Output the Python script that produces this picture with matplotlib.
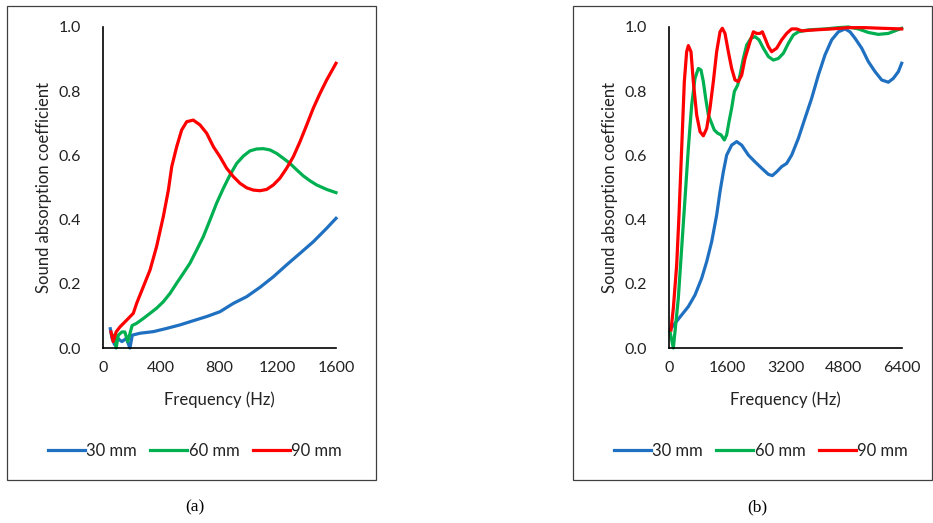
import matplotlib.pyplot as plt
from matplotlib.patches import Rectangle

plt.rcParams['font.family'] = ['Lato', 'DejaVu Sans']

# ---- panel (a): 0-1600 Hz ----
fa_30 = [50, 62, 80, 100, 130, 160, 185, 201, 254, 346, 437, 529, 620, 712, 803, 895,
         987, 1078, 1170, 1261, 1353, 1444, 1536, 1600]
aa_30 = [0.06, 0.03, 0.01, 0.03, 0.02, 0.03, 0.0, 0.04, 0.046, 0.051, 0.061, 0.072, 0.085,
         0.098, 0.113, 0.139, 0.16, 0.189, 0.222, 0.259, 0.295, 0.331, 0.373, 0.404]

fa_60 = [80, 90, 105, 130, 150, 170, 200, 231, 277, 323, 368, 414, 460, 506, 552, 597,
         643, 689, 735, 780, 826, 872, 918, 964, 1009, 1055, 1101, 1147, 1193, 1238,
         1284, 1330, 1376, 1421, 1467, 1536, 1600]
aa_60 = [0.04, 0.0, 0.04, 0.05, 0.05, 0.02, 0.07, 0.077, 0.092, 0.108, 0.124, 0.144, 0.17,
         0.202, 0.233, 0.264, 0.305, 0.347, 0.399, 0.451, 0.497, 0.539, 0.575, 0.598,
         0.614, 0.62, 0.621, 0.617, 0.606, 0.591, 0.575, 0.555, 0.536, 0.521, 0.508,
         0.494, 0.484]

fa_90 = [55, 70, 90, 117, 163, 208, 231, 277, 323, 368, 414, 449, 472, 506, 540, 575,
         620, 666, 712, 758, 803, 849, 895, 941, 987, 1032, 1078, 1124, 1170, 1215, 1261,
         1307, 1353, 1399, 1444, 1490, 1536, 1600]
aa_90 = [0.05, 0.02, 0.05, 0.066, 0.087, 0.108, 0.139, 0.191, 0.243, 0.316, 0.409, 0.492,
         0.565, 0.627, 0.679, 0.705, 0.71, 0.695, 0.669, 0.627, 0.596, 0.56, 0.534, 0.513,
         0.499, 0.492, 0.49, 0.494, 0.508, 0.529, 0.56, 0.596, 0.643, 0.695, 0.747, 0.793,
         0.835, 0.887]

# ---- panel (b): 0-6400 Hz ----
fb_30 = [55, 165, 348, 531, 714, 897, 1035, 1172, 1309, 1401, 1493, 1584, 1721, 1859,
         1996, 2180, 2362, 2546, 2729, 2838, 2958, 3095, 3232, 3370, 3553, 3736, 3919,
         4102, 4285, 4469, 4652, 4835, 4972, 5109, 5293, 5476, 5659, 5842, 6025, 6162,
         6300, 6391]
ab_30 = [0.061, 0.077, 0.103, 0.129, 0.165, 0.217, 0.269, 0.331, 0.414, 0.487, 0.549,
         0.601, 0.632, 0.643, 0.632, 0.601, 0.58, 0.56, 0.541, 0.537, 0.549, 0.565, 0.575,
         0.601, 0.653, 0.716, 0.778, 0.85, 0.913, 0.96, 0.985, 0.994, 0.985, 0.965, 0.934,
         0.892, 0.861, 0.835, 0.828, 0.84, 0.861, 0.887]

fb_60 = [27, 119, 165, 256, 348, 440, 531, 623, 714, 806, 879, 943, 1007, 1081, 1154,
         1245, 1337, 1428, 1520, 1584, 1648, 1721, 1795, 1886, 1950, 2042, 2134, 2253,
         2362, 2472, 2591, 2729, 2866, 3003, 3141, 3278, 3415, 3553, 3827, 4285, 4652,
         4926, 5201, 5476, 5750, 6025, 6208, 6391]
ab_60 = [0.051, 0.0, 0.051, 0.155, 0.311, 0.466, 0.622, 0.757, 0.84, 0.871, 0.866, 0.83,
         0.778, 0.726, 0.705, 0.679, 0.669, 0.664, 0.648, 0.664, 0.705, 0.747, 0.799,
         0.819, 0.85, 0.902, 0.944, 0.965, 0.97, 0.96, 0.934, 0.908, 0.897, 0.902, 0.918,
         0.949, 0.975, 0.985, 0.991, 0.994, 0.998, 1.0, 0.994, 0.983, 0.977, 0.98, 0.988,
         0.996]

fb_90 = [55, 119, 211, 275, 348, 421, 485, 531, 604, 668, 760, 852, 943, 1035, 1126,
         1218, 1309, 1401, 1465, 1538, 1630, 1721, 1813, 1905, 1996, 2088, 2225, 2317,
         2408, 2500, 2564, 2637, 2729, 2820, 2958, 3095, 3232, 3370, 3507, 3645, 4011,
         4469, 4926, 5384, 5842, 6391]
ab_90 = [0.056, 0.124, 0.259, 0.414, 0.622, 0.83, 0.923, 0.942, 0.923, 0.83, 0.726, 0.674,
         0.661, 0.684, 0.747, 0.83, 0.923, 0.985, 0.996, 0.98, 0.923, 0.871, 0.835, 0.83,
         0.85, 0.902, 0.954, 0.985, 0.98, 0.98, 0.985, 0.965, 0.939, 0.923, 0.934, 0.96,
         0.98, 0.994, 0.994, 0.988, 0.991, 0.994, 0.998, 0.998, 0.996, 0.994]

series_labels = ['30 mm', '60 mm', '90 mm']
colors = ['#1f70c1', '#00b050', '#ff0000']
y_ticks = [0.0, 0.2, 0.4, 0.6, 0.8, 1.0]
xa_ticks = [0, 400, 800, 1200, 1600]
xb_ticks = [0, 1600, 3200, 4800, 6400]

W, H = 933, 523
fig = plt.figure(figsize=(W / 100, H / 100), dpi=100)


def px_rect(x0, y0, x1, y1):
    # pixel box (top-left origin) -> figure fraction rect
    return [x0 / W, 1 - y1 / H, (x1 - x0) / W, (y1 - y0) / H]


def draw_panel(x0, x_max, ticks, data, box):
    # outer frame like the Excel chart area
    bx0, by0, bx1, by1 = box
    fig.patches.append(Rectangle((bx0 / W, 1 - by1 / H), (bx1 - bx0) / W, (by1 - by0) / H,
                                 transform=fig.transFigure, fill=False,
                                 edgecolor='#404040', linewidth=0.9))
    ax = fig.add_axes(px_rect(x0, 27, x0 + 233, 348))
    for (f, a), c, lab in zip(data, colors, series_labels):
        ax.plot(f, a, color=c, linewidth=2.3, label=lab, solid_joinstyle='round',
                clip_on=False)
    ax.set_xlim(0, x_max)
    ax.set_ylim(0, 1.0)
    ax.set_xticks(ticks)
    ax.set_yticks(y_ticks)
    ax.set_yticklabels([f'{v:.1f}' for v in y_ticks])
    ax.tick_params(axis='both', length=0, labelsize=11.5, colors='#222222')
    ax.tick_params(axis='x', pad=9)
    ax.tick_params(axis='y', pad=16)
    for s in ['top', 'right']:
        ax.spines[s].set_visible(False)
    for s in ['left', 'bottom']:
        ax.spines[s].set_color('black')
        ax.spines[s].set_linewidth(1.2)
    ax.text(0.5, -0.162, 'Frequency (Hz)', transform=ax.transAxes,
            ha='center', va='center', fontsize=12, color='#222222')
    ax.text(-0.255, 0.5, 'Sound absorption coefficient', transform=ax.transAxes,
            ha='center', va='center', rotation=90, fontsize=12, color='#222222')
    ax.legend(loc='center', bbox_to_anchor=(0.395, -0.321), ncol=3, frameon=False,
              fontsize=12, handlelength=2.2, handletextpad=0.1, columnspacing=0.8,
              labelcolor='#222222')
    return ax


draw_panel(103, 1600, xa_ticks,
           [(fa_30, aa_30), (fa_60, aa_60), (fa_90, aa_90)], (7, 6, 376, 480))
draw_panel(669, 6400, xb_ticks,
           [(fb_30, ab_30), (fb_60, ab_60), (fb_90, ab_90)], (573, 6, 932, 480))

fig.text(195 / W, 1 - 507 / H, '(a)', ha='center', va='center', fontsize=12.5,
         family='Liberation Serif')
fig.text(757 / W, 1 - 507 / H, '(b)', ha='center', va='center', fontsize=12.5,
         family='Liberation Serif')

fig.savefig('out.png', dpi=100)
